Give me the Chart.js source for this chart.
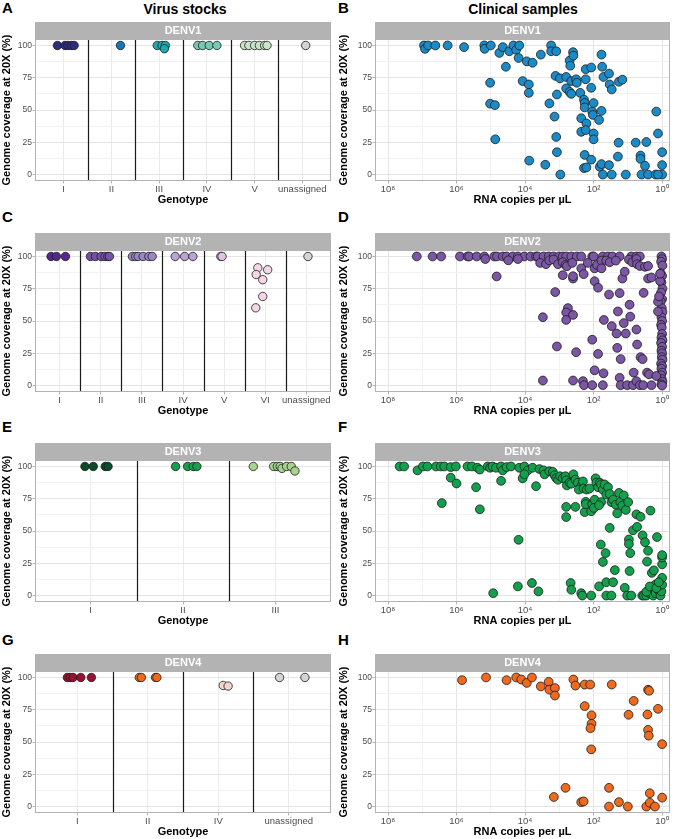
<!doctype html>
<html lang="en">
<head>
<meta charset="utf-8">
<title>DENV genome coverage</title>
<script src="https://cdn.jsdelivr.net/npm/chart.js@4.4.1/dist/chart.umd.min.js"></script>
<style>
  body { margin: 0; background: #fff; font-family: "Liberation Sans", Arial, sans-serif; }
  #fig { position: relative; width: 676px; height: 839px; overflow: hidden; }
  .lab { position: absolute; font-weight: bold; font-size: 15px; line-height: 1; }
  .col { position: absolute; font-weight: bold; font-size: 14px; line-height: 1; text-align: center; width: 300px; }
  canvas { position: absolute; }
</style>
</head>
<body>
<div id="fig">
  <div class="lab" style="left:2px;top:0px">A</div>
  <div class="lab" style="left:338px;top:0px">B</div>
  <div class="lab" style="left:2px;top:209px">C</div>
  <div class="lab" style="left:338px;top:209px">D</div>
  <div class="lab" style="left:2px;top:419px">E</div>
  <div class="lab" style="left:338px;top:419px">F</div>
  <div class="lab" style="left:2px;top:632px">G</div>
  <div class="lab" style="left:338px;top:632px">H</div>
  <div class="col" style="left:35px;top:2px">Virus stocks</div>
  <div class="col" style="left:373px;top:2px">Clinical samples</div>

  <canvas id="a" width="336" height="186" style="left:0;top:22px"></canvas>
  <canvas id="b" width="340" height="186" style="left:336px;top:22px"></canvas>
  <canvas id="c" width="336" height="186" style="left:0;top:233px"></canvas>
  <canvas id="d" width="340" height="186" style="left:336px;top:233px"></canvas>
  <canvas id="e" width="336" height="186" style="left:0;top:443px"></canvas>
  <canvas id="f" width="340" height="186" style="left:336px;top:443px"></canvas>
  <canvas id="g" width="336" height="186" style="left:0;top:654px"></canvas>
  <canvas id="h" width="340" height="186" style="left:336px;top:654px"></canvas>
</div>

<script>
// shared axis values
var covTicks = [0, 12.5, 25, 37.5, 50, 62.5, 75, 87.5, 100];
var decades = [0, 1, 2, 3, 4, 5, 6, 7, 8];
var sup = ['⁰', '¹', '²', '³', '⁴', '⁵', '⁶', '⁷', '⁸'];

// ---- virus stocks: genotype names, colours, jittered x position and coverage per point
var d1Genotypes = ['I', 'II', 'III', 'IV', 'V', 'unassigned'];
var d1Colors = ['#2e2c7e', '#1477b8', '#1aaab0', '#78c9b1', '#c8e6c7', '#d4d4d4'];
var d1Stocks = [
  [[0.87, 100], [1.03, 100], [1.09, 100], [1.16, 100], [1.22, 100]],
  [[2.19, 100]],
  [[2.96, 100], [3.06, 100], [3.13, 100], [3.11, 97.5]],
  [[3.81, 100], [3.91, 100], [4.05, 100], [4.21, 100]],
  [[4.79, 100], [4.88, 100], [5.0, 100], [5.1, 100], [5.21, 100], [5.26, 100]],
  [[6.07, 100]]
];

var d2Genotypes = ['I', 'II', 'III', 'IV', 'V', 'VI', 'unassigned'];
var d2Colors = ['#57288c', '#7651a8', '#9a86c3', '#bba3d3', '#e2c3df', '#f5d6e6', '#d4d4d4'];
var d2Stocks = [
  [[0.79, 100], [0.92, 100], [1.14, 100]],
  [[1.75, 100], [1.87, 100], [2.01, 100], [2.1, 100], [2.17, 100], [2.21, 100]],
  [[2.77, 100], [2.85, 100], [2.91, 100], [3.03, 100], [3.17, 100], [3.25, 100]],
  [[3.81, 100], [4.04, 100], [4.24, 100]],
  [[4.92, 100], [4.95, 100]],
  [[5.82, 91.2], [6.06, 89.7], [5.78, 86], [5.94, 82], [5.94, 69], [5.77, 60.2]],
  [[7.04, 100]]
];

var d3Genotypes = ['I', 'II', 'III'];
var d3Colors = ['#0b4a2a', '#16a04d', '#a6d48f'];
var d3Stocks = [
  [[0.94, 100], [1.03, 100], [1.16, 100], [1.19, 100]],
  [[1.92, 100], [2.05, 100], [2.11, 100], [2.15, 100]],
  [[2.76, 100], [2.98, 100], [3.02, 100], [3.05, 100], [3.07, 98.5], [3.12, 100], [3.17, 100], [3.21, 96.5]]
];

var d4Genotypes = ['I', 'II', 'IV', 'unassigned'];
var d4Colors = ['#98122f', '#ec6a1c', '#f0d6cc', '#d4d4d4'];
var d4Stocks = [
  [[0.86, 100], [0.9, 100], [0.94, 100], [1.05, 100], [1.2, 100]],
  [[1.88, 100], [1.91, 100], [2.11, 100], [2.13, 100]],
  [[3.07, 93.8], [3.14, 93.3]],
  [[3.87, 100], [4.23, 100]]
];

// ---- clinical samples: [log10 RNA copies per uL, coverage %]
var d1Clinical = [
  [6.95, 100], [6.92, 97.4], [6.83, 100], [6.62, 100], [6.26, 100], [5.78, 98.7], [5.19, 100], [5.18, 97.4],
  [5.0, 100], [4.75, 94.2], [4.65, 98.7], [4.56, 83.5], [4.46, 95.5], [4.34, 100], [4.26, 96.6], [4.17, 100],
  [4.19, 90.3], [3.95, 87.7], [3.78, 86.6], [4.07, 72.4], [3.89, 69.8], [3.89, 63.3], [3.54, 92.9], [3.24, 100],
  [3.24, 95.5], [3.09, 95.5], [3.29, 55.1], [3.14, 44.9], [3.11, 76.4], [3.09, 29.1], [3.07, 17.3], [3.41, 7.6],
  [3.88, 10.8], [5.02, 71.1], [5.02, 54.9], [4.88, 53.8], [4.87, 27.3], [3.07, 62], [2.97, 0], [2.98, 74.5],
  [2.8, 75.6], [2.7, 88.2], [2.68, 84.3], [2.65, 72.4], [2.6, 94.8], [2.59, 92.1], [2.8, 66.7], [2.7, 64],
  [2.65, 62.5], [2.51, 73.8], [2.49, 71.1], [2.39, 63.3], [2.36, 33.1], [2.36, 43.6], [2.28, 58], [2.26, 55.4],
  [2.26, 52], [2.23, 81.6], [2.23, 73.8], [2.21, 39.6], [2.23, 34.4], [2.26, 15.2], [2.28, 5], [2.21, 5.5],
  [2.07, 82.9], [2.07, 67.2], [2.04, 48.8], [2.02, 46.2], [2.0, 55.4], [2.0, 31.8], [2.0, 27.3], [2.07, 11.5],
  [1.84, 42.3], [1.82, 6], [1.77, 8.1], [1.77, 92.9], [1.75, 83.5], [1.77, 49.3], [1.73, 0], [1.71, 75.6],
  [1.55, 78.2], [1.55, 7.3], [1.53, 69.8], [1.47, 65.9], [1.47, 0], [1.26, 71.9], [1.16, 73.5], [1.27, 24.7],
  [1.29, 13.9], [1.06, 0], [0.77, 24.7], [0.63, 14.7], [0.63, 12.1], [0.6, 0], [0.5, 6.8], [0.46, 25.2],
  [0.41, 0], [0.19, 0], [0.17, 48.8], [0.12, 31.8], [0.0, 17.3], [0.0, 7.3], [0.0, 0], [0.12, 0]
];

var d2Clinical = [
  [7.16, 100], [6.70, 100], [6.45, 100], [5.90, 100], [5.68, 100], [5.63, 100], [5.41, 100], [5.19, 100],
  [4.90, 100], [4.82, 100], [4.65, 100], [4.54, 100], [4.36, 100], [4.21, 100], [4.02, 100], [3.84, 100],
  [3.68, 100], [3.63, 100], [3.46, 100], [3.31, 100], [3.17, 100], [3.01, 100], [2.90, 100], [2.80, 100],
  [2.65, 100], [2.49, 100], [2.36, 100], [2.04, 100], [2.00, 100], [1.73, 100], [1.58, 100], [1.45, 100],
  [1.24, 100], [0.90, 100], [0.75, 100], [0.65, 100],
  [5.16, 98], [4.49, 97], [4.21, 98], [3.56, 95], [3.39, 94], [3.29, 97], [3.17, 97.6], [3.04, 94],
  [2.90, 95.5], [2.82, 93.4], [2.78, 92.4], [2.62, 95], [2.36, 90.8], [2.17, 95], [1.97, 90.8], [1.90, 93.4],
  [1.77, 96.8], [1.77, 90.8], [1.63, 96.8], [1.53, 95.5], [1.35, 96.8], [0.97, 97.6], [0.87, 95.5], [0.75, 98],
  [0.73, 94], [0.65, 92.6], [0.5, 92], [0.41, 92.6],
  [0.02, 100], [0.0, 98], [0.03, 96], [-0.01, 93], [0.04, 87], [0.0, 85], [0.02, 80], [-0.01, 75],
  [0.03, 72], [0.0, 67], [0.04, 65], [0.01, 60], [-0.01, 57], [0.02, 53], [0.0, 50], [0.03, 47],
  [0.01, 45], [0.0, 40], [0.02, 37], [-0.01, 35], [0.03, 33], [0.0, 30], [0.02, 27], [0.0, 25],
  [0.01, 22], [-0.01, 20], [0.03, 17], [0.0, 15], [0.02, 13], [0.0, 10], [0.03, 8], [0.01, 5],
  [-0.01, 3], [0.02, 1], [0.0, 0],
  [4.83, 84.5], [3.48, 52.9], [3.48, 3.9], [3.12, 72.4], [3.07, 30.3], [2.75, 60], [2.8, 56.6], [2.8, 50.8],
  [2.6, 54.7], [2.6, 82.9], [2.6, 84.7], [2.51, 25.8], [2.6, 3.9], [2.9, 85.5], [2.29, 86.3], [2.31, 3.4],
  [2.28, 0.3], [2.04, 0.3], [2.04, 35.5], [1.97, 80.8], [1.87, 75.8], [1.97, 11.8], [1.87, 24.5], [1.73, 0.3],
  [1.71, 9.5], [1.70, 50.8], [1.55, 70.5], [1.47, 46], [1.33, 40.3], [1.31, 29.2], [1.29, 57.4], [1.24, 71.6],
  [1.21, 20.5], [1.24, 6], [1.21, 0.3], [1.16, 82.9], [1.12, 48.4], [1.09, 88.2], [1.06, 40.3], [1.02, 0.3],
  [0.95, 62.6], [0.93, 53.4], [0.83, 10], [0.85, 0.3], [0.75, 43.4], [0.75, 3.4], [0.73, 31.8], [0.65, 0.3],
  [0.63, 22], [0.57, 20.5], [0.55, 0.3], [0.54, 71.8], [0.41, 82.9], [0.44, 10], [0.38, 8.7], [0.31, 83.7],
  [0.31, 0.3], [0.17, 7.4], [0.12, 57.4], [0.12, 65], [0.09, 69], [0.06, 81], [0.06, 86.6]
];

var d3Clinical = [
  [7.66, 100], [7.53, 100], [7.14, 97], [6.98, 100], [6.85, 100], [6.60, 100], [6.46, 100], [6.36, 100],
  [6.17, 99.5], [6.02, 100], [5.68, 100], [5.55, 100], [5.39, 99], [5.32, 97.6], [5.09, 100], [5.02, 99],
  [4.95, 100], [4.85, 99], [4.70, 100], [4.65, 97], [4.54, 99.5], [4.41, 100], [4.17, 99], [4.02, 100],
  [3.92, 97], [3.78, 99], [3.58, 98], [3.46, 97], [3.43, 93.9], [3.29, 96.3], [3.19, 95.8], [3.14, 93.2],
  [3.09, 91], [3.04, 89.7], [2.98, 92.4], [2.90, 91], [2.82, 92.4], [2.80, 89.2], [2.78, 85.3], [2.70, 87.4],
  [2.65, 86.6], [2.59, 93.9], [2.53, 89.7], [2.46, 87.4], [2.36, 84.7], [2.43, 82.1], [2.31, 88.4], [2.29, 82.9],
  [2.20, 82.1], [2.12, 82.9], [1.94, 90.8], [1.92, 87.4], [1.87, 83.9], [1.82, 87.4], [1.78, 86.1], [1.73, 82.1],
  [1.68, 86.1], [1.63, 78.2], [1.58, 83.9], [1.53, 78.7], [1.48, 72.4], [1.43, 74.2], [1.35, 70.3], [1.31, 63.7],
  [1.26, 79.5], [1.22, 72.4], [1.16, 69.7], [1.12, 77.6], [1.06, 66.3], [0.99, 72.4],
  [6.43, 71.6], [6.17, 91.3], [6.0, 86.8], [5.43, 83.9], [5.32, 66.8], [4.70, 88.9], [4.19, 43.2], [4.07, 90.8],
  [4.02, 94], [3.68, 84.7], [4.21, 7.1], [3.8, 9.7], [3.61, 3.2], [4.93, 1.8], [2.8, 60.8], [2.8, 68.7],
  [2.53, 68.7], [2.26, 64.7], [2.23, 72.6], [2.23, 70.8], [2.04, 70.8], [1.97, 74.2], [1.78, 72.4], [2.07, 65.3],
  [1.99, 67.9], [1.84, 70], [2.67, 9.7], [2.65, 4.5], [2.36, 1.8], [2.33, 0], [2.07, 0], [1.84, 7.1],
  [1.79, 39.5], [1.73, 26], [1.65, 32.9], [1.63, 10.3], [1.63, 0], [1.53, 52.4], [1.48, 0], [1.43, 10.3],
  [1.38, 19.7], [1.09, 6], [1.02, 0], [0.97, 43.4], [0.97, 40], [0.93, 32.9], [0.95, 19], [0.9, 0],
  [0.85, 50.5], [0.73, 53.2], [0.75, 62.9], [0.63, 61], [0.57, 46.6], [0.5, 41.3], [0.44, 26.3], [0.41, 34.7],
  [0.34, 65.8], [0.3, 17.6], [0.24, 19.5], [0.2, 8.4], [0.15, 45.3], [0.58, 0], [0.53, 0], [0.46, 0],
  [0.36, 1.8], [0.31, 4.5], [0.26, 0], [0.19, 1.8], [0.12, 4.5], [0.05, 0], [0.02, 3.2], [0.0, 8.4],
  [0.0, 13.7], [0.0, 24.2], [0.0, 29.5], [0.0, 31.3], [0.46, 3], [0.36, 7], [0.17, 5.8], [0.1, 10.3]
];

var d4Clinical = [
  [5.84, 97.9], [5.14, 100], [4.54, 97.9], [4.26, 100], [4.11, 98.4], [3.95, 95.8], [3.8, 100], [3.54, 93.1],
  [3.31, 96.6], [3.29, 90.5], [3.13, 91.8], [3.13, 86], [3.16, 7.4], [2.82, 14.5], [2.59, 98.4], [2.53, 93.7],
  [2.36, 3.4], [2.29, 4], [2.26, 77.8], [2.26, 94.5], [2.1, 94.5], [2.06, 70.7], [2.06, 64.1], [2.09, 60.7],
  [2.07, 44.3], [1.55, 0], [1.55, 14.5], [1.47, 94.5], [1.26, 3.4], [1.0, 0], [0.98, 71.1], [0.83, 81.8],
  [0.46, 0], [0.43, 71.3], [0.41, 90.5], [0.38, 89.7], [0.41, 59.4], [0.39, 54.9], [0.36, 10.3], [0.36, 2.9],
  [0.21, 0], [0.12, 75.7], [0.0, 48.3], [0.0, 6.9]
];

var FONT = '"Liberation Sans", Arial, sans-serif';
Chart.defaults.font.family = FONT;

// strip, white panel, genotype dividers and grey border
var panelDeco = {
  id: 'panelDeco',
  beforeDraw: function (chart, args, opts) {
    var ctx = chart.ctx, a = chart.chartArea;
    ctx.save();
    ctx.fillStyle = '#fff';
    ctx.fillRect(a.left, a.top, a.right - a.left, a.bottom - a.top);
    ctx.fillStyle = '#b3b3b3';
    ctx.fillRect(a.left, a.top - 17, a.right - a.left, 17);
    ctx.fillStyle = '#fff';
    ctx.font = 'bold 11px ' + FONT;
    ctx.textAlign = 'center';
    ctx.textBaseline = 'middle';
    ctx.fillText(opts.strip, (a.left + a.right) / 2, a.top - 8);
    ctx.restore();
  },
  beforeDatasetsDraw: function (chart, args, opts) {
    var ctx = chart.ctx, a = chart.chartArea, x = chart.scales.x;
    ctx.save();
    ctx.strokeStyle = '#1a1a1a';
    ctx.lineWidth = 1.2;
    (opts.dividers || []).forEach(function (v) {
      var px = Math.round(x.getPixelForValue(v)) + 0.5;
      ctx.beginPath();
      ctx.moveTo(px, a.top);
      ctx.lineTo(px, a.bottom);
      ctx.stroke();
    });
    ctx.strokeStyle = '#b3b3b3';
    ctx.lineWidth = 1;
    ctx.strokeRect(a.left + 0.5, a.top + 0.5, a.right - a.left - 1, a.bottom - a.top - 1);
    ctx.restore();
  }
};

function yScale(width, titlePad) {
  return {
    type: 'linear', min: -5, max: 105,
    afterBuildTicks: function (s) { s.ticks = covTicks.map(function (v) { return { value: v }; }); },
    afterFit: function (s) { s.width = width; },
    ticks: {
      autoSkip: false, padding: 0.5, color: '#4d4d4d', font: { size: 8.5 },
      callback: function (v) { return v % 25 === 0 ? v : ''; }
    },
    grid: {
      tickLength: 2.5,
      color: function (c) { return c.tick && c.tick.value % 25 === 0 ? '#e4e4e4' : '#f2f2f2'; },
      tickColor: function (c) { return c.tick && c.tick.value % 25 === 0 ? '#b3b3b3' : 'rgba(0,0,0,0)'; }
    },
    border: { display: false },
    title: {
      display: true, text: 'Genome coverage at 20X (%)', color: '#000',
      font: { size: 11, weight: 'bold' }, padding: { top: titlePad, bottom: 0 }
    }
  };
}

function xTitle(text) {
  return { display: true, text: text, color: '#000', font: { size: 11, weight: 'bold' }, padding: { top: 0, bottom: 1.4 } };
}

function baseOptions(strip, dividers, padRight) {
  return {
    responsive: false, animation: false, events: [],
    layout: { padding: { top: 17, right: padRight, left: 0, bottom: 0 } },
    plugins: { legend: { display: false }, tooltip: { enabled: false }, panelDeco: { strip: strip, dividers: dividers } }
  };
}

function stockChart(id, strip, genotypes, colors, groups) {
  var n = genotypes.length;
  var dividers = [];
  for (var i = 1; i < n; i++) dividers.push(i + 0.5);
  var opts = baseOptions(strip, dividers, 2);
  opts.scales = {
    x: {
      type: 'linear', min: 0.4, max: n + 0.6,
      afterBuildTicks: function (s) { s.ticks = genotypes.map(function (g, i) { return { value: i + 1 }; }); },
      afterFit: function (s) { s.height = 27; },
      ticks: {
        autoSkip: false, maxRotation: 0, padding: 0, color: '#4d4d4d', font: { size: 9.5 },
        callback: function (v) { return genotypes[Math.round(v) - 1]; }
      },
      grid: { color: '#ebebeb', tickColor: '#b3b3b3', tickLength: 2.5 },
      border: { display: false },
      title: xTitle('Genotype')
    },
    y: yScale(35, 0)
  };
  new Chart(document.getElementById(id), {
    type: 'scatter',
    data: {
      datasets: groups.map(function (pts, i) {
        return {
          data: pts.map(function (p) { return { x: p[0], y: p[1] }; }),
          backgroundColor: colors[i], borderColor: '#1a1a1a', borderWidth: 0.8,
          pointRadius: 4.2, pointHoverRadius: 4.2
        };
      })
    },
    options: opts,
    plugins: [panelDeco]
  });
}

function clinicalChart(id, strip, color, pts) {
  var opts = baseOptions(strip, [], 6);
  opts.scales = {
    x: {
      type: 'logarithmic', reverse: true, min: Math.pow(10, -0.23), max: Math.pow(10, 8.38),
      afterBuildTicks: function (s) { s.ticks = decades.map(function (e) { return { value: Math.pow(10, e) }; }); },
      afterFit: function (s) { s.height = 27; },
      ticks: {
        autoSkip: false, maxRotation: 0, padding: 0, color: '#4d4d4d', font: { size: 9.5 },
        callback: function (v) {
          var e = Math.round(Math.log10(v));
          return e % 2 === 0 ? '10' + sup[e] : '';
        }
      },
      grid: {
        tickLength: 2.5,
        color: function (c) { return c.tick && Math.round(Math.log10(c.tick.value)) % 2 === 0 ? '#e4e4e4' : '#f2f2f2'; },
        tickColor: function (c) { return c.tick && Math.round(Math.log10(c.tick.value)) % 2 === 0 ? '#b3b3b3' : 'rgba(0,0,0,0)'; }
      },
      border: { display: false },
      title: xTitle('RNA copies per µL')
    },
    y: yScale(39, 1.5)
  };
  new Chart(document.getElementById(id), {
    type: 'scatter',
    data: {
      datasets: [{
        data: pts.map(function (p) { return { x: Math.pow(10, p[0]), y: p[1] }; }),
        backgroundColor: color, borderColor: '#1a1a1a', borderWidth: 0.8,
        pointRadius: 4.4, pointHoverRadius: 4.4
      }]
    },
    options: opts,
    plugins: [panelDeco]
  });
}

stockChart('a', 'DENV1', d1Genotypes, d1Colors, d1Stocks);
clinicalChart('b', 'DENV1', '#1b8bc8', d1Clinical);
stockChart('c', 'DENV2', d2Genotypes, d2Colors, d2Stocks);
clinicalChart('d', 'DENV2', '#7a56a5', d2Clinical);
stockChart('e', 'DENV3', d3Genotypes, d3Colors, d3Stocks);
clinicalChart('f', 'DENV3', '#12a04c', d3Clinical);
stockChart('g', 'DENV4', d4Genotypes, d4Colors, d4Stocks);
clinicalChart('h', 'DENV4', '#ed6a1f', d4Clinical);
</script>
</body>
</html>
